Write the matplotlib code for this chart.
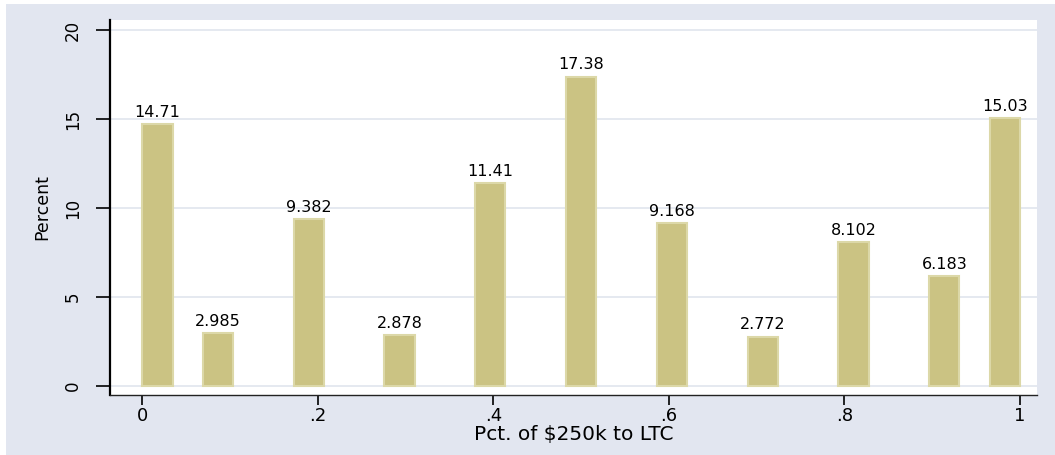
import numpy as np
import matplotlib
matplotlib.use("Agg")
import matplotlib.pyplot as plt

# Data: share of $250k allocated to LTC (values) and percent of respondents
share_values = [0.0, 0.1, 0.2, 0.3, 0.4, 0.5, 0.6, 0.7, 0.8, 0.9, 1.0]
percents = [14.71, 2.985, 9.382, 2.878, 11.41, 17.38, 9.168, 2.772, 8.102, 6.183, 15.03]
n_bins = 29
x_ticks = [0, 0.2, 0.4, 0.6, 0.8, 1.0]
x_ticklabels = ["0", ".2", ".4", ".6", ".8", "1"]
y_ticks = [0, 5, 10, 15, 20]
y_ticklabels = ["0", "5", "10", "15", "20"]
x_title = "Pct. of $250k to LTC"
y_title = "Percent"

plt.rcParams["font.family"] = ["DejaVu Sans"]

outer_bg = "#E2E6F0"
bar_color = "#CBC383"
bar_edge = "#DCD8A8"
grid_color = "#E0E5EE"

fig = plt.figure(figsize=(10.55, 4.55), dpi=100)
fig.patch.set_facecolor("white")
# outer graph region (light bluish gray)
fig.add_artist(plt.Rectangle((6 / 1055, 0), 1 - 6 / 1055, 1 - 4 / 455,
                             transform=fig.transFigure, facecolor=outer_bg,
                             edgecolor="none", zorder=-10))

ax = fig.add_axes([110 / 1055, 60 / 455, (1037 - 110) / 1055, (435 - 60) / 455])
ax.set_facecolor("white")

bins = np.linspace(0, 1, n_bins + 1)
counts, edges, container = ax.hist(share_values, bins=bins, weights=percents,
                                   color=bar_color, edgecolor=bar_edge,
                                   linewidth=1.5, zorder=3)
for patch, h in zip(container.patches, counts):
    if h <= 0:
        patch.set_visible(False)

labels = [f"{h:.4g}" if h > 0 else "" for h in counts]
ax.bar_label(container, labels=labels, padding=3, fontsize=11.5, color="black")

ax.set_xlim(-0.0368, 1.0194)
ax.set_ylim(-0.506, 20.56)

ax.set_yticks(y_ticks)
ax.set_yticklabels(y_ticklabels, rotation=90, va="center", fontsize=12)
ax.set_xticks(x_ticks)
ax.set_xticklabels(x_ticklabels, fontsize=13)

ax.tick_params(axis="y", length=10, width=1.2, pad=10, color="black")
ax.tick_params(axis="x", length=7, width=1.2, pad=1.5, color="black")

ax.yaxis.grid(True, color=grid_color, linewidth=1.2, zorder=0)
ax.set_axisbelow(True)

for s in ["top", "right"]:
    ax.spines[s].set_visible(False)
ax.spines["left"].set_linewidth(1.6)
ax.spines["bottom"].set_linewidth(1.0)
ax.spines["left"].set_color("black")
ax.spines["bottom"].set_color("#222222")

ax.set_xlabel(x_title, fontsize=14.5, labelpad=0)
ax.set_ylabel(y_title, fontsize=12.5, labelpad=9)

fig.savefig("out.png", dpi=100, facecolor=fig.get_facecolor())
